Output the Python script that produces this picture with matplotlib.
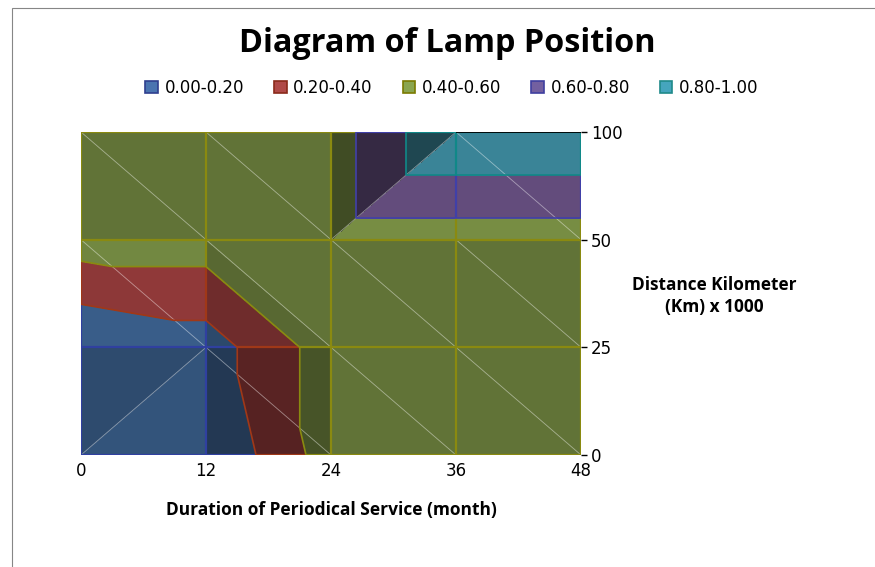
import numpy as np
import matplotlib
matplotlib.use('Agg')
import matplotlib.pyplot as plt
from matplotlib.tri import Triangulation
from matplotlib.collections import LineCollection
from matplotlib.patches import Patch, Rectangle

# ---- data -----------------------------------------------------------------
months = [0, 12, 24, 36, 48]            # x categories (month)
distance = ['0', '25', '50', '100']     # y series (km x 1000)

# surface values, one row per distance
val_0 = [0.0, 0.0, 0.5, 0.5, 0.5]
val_25 = [0.0, 0.1, 0.5, 0.5, 0.5]
val_50 = [0.5, 0.5, 0.5, 0.5, 0.5]
val_100 = [0.5, 0.5, 0.5, 1.0, 1.0]

band_labels = ['0.00-0.20', '0.20-0.40', '0.40-0.60', '0.60-0.80', '0.80-1.00']
band_levels = [0.0, 0.2, 0.4, 0.6, 0.8, 1.0]

# ---- styles ---------------------------------------------------------------
# band colours of a flat facet (rgb 0-255), lit facets get brighter / darker
flat_rgb = [(49, 80, 118), (122, 48, 48), (97, 115, 55), (81, 62, 101), (47, 108, 123)]
border = ['#3040a0', '#a03818', '#8a8a10', '#4040a8', '#108888']
legend_fc = ['#4a74b0', '#b04a48', '#8aa54f', '#7360a0', '#45a5bd']
legend_ec = ['#2f3f8f', '#8a2a1a', '#7a7a00', '#3f3f9f', '#1f8a8a']

# how Excel split every cell into two triangles (row by row, from bottom)
diagonals = [['/', '\\', '\\', '\\'],
             ['\\', '\\', '\\', '\\'],
             ['\\', '\\', '/', '\\']]

ni, nj = len(months), len(distance)
I, J = np.meshgrid(np.arange(ni), np.arange(nj))
x = I.ravel().astype(float)
y = J.ravel().astype(float)
z = np.array([val_0, val_25, val_50, val_100]).ravel()


def node(i, j):
    return j * ni + i


triangles = []
for j in range(nj - 1):
    for i in range(ni - 1):
        a, b, c, d = node(i, j), node(i + 1, j), node(i + 1, j + 1), node(i, j + 1)
        if diagonals[j][i] == '/':
            triangles += [[a, b, c], [a, c, d]]
        else:
            triangles += [[a, b, d], [b, c, d]]

fig = plt.figure(figsize=(8.75, 5.67), dpi=100)
ax = fig.add_axes([81 / 875, 1 - 455 / 567, 500 / 875, 323 / 567])

fill_levels = [band_levels[0] - 0.001] + band_levels[1:-1] + [band_levels[-1] + 0.001]

# each facet filled on its own, shaded by its slope (light from the bottom-left)
for t in triangles:
    A = np.column_stack([x[t], y[t], np.ones(3)])
    gx, gy, _ = np.linalg.solve(A, z[t])
    f = np.clip(1 - 0.68 * gx + 0.45 * gy, 0.3, 1.6)
    cols = [np.clip(np.array(c) * f / 255, 0, 1) for c in flat_rgb]
    ax.tricontourf(Triangulation(x, y, [t]), z, levels=fill_levels, colors=cols)

tri_all = Triangulation(x, y, triangles)

# band outlines used to colour the cell grid
cs = ax.tricontourf(tri_all, z, levels=fill_levels)
band_paths = cs.get_paths()
cs.remove()

# faint facet diagonals
diag_segs = []
for t in triangles:
    for p, q in [(t[0], t[1]), (t[1], t[2]), (t[2], t[0])]:
        if x[p] != x[q] and y[p] != y[q]:
            diag_segs.append([(x[p], y[p]), (x[q], y[q])])
ax.add_collection(LineCollection(diag_segs, colors=[(1, 1, 1, 0.25)], linewidths=0.6))

# cell grid, coloured by the band it runs through
grid_segs = [[(i, 0), (i, nj - 1)] for i in range(ni)] + \
            [[(0, j), (ni - 1, j)] for j in range(nj)]
for k, path in enumerate(band_paths):
    if len(path.vertices) == 0:
        continue
    lc = LineCollection(grid_segs, colors=border[k], linewidths=1.6)
    ax.add_collection(lc)
    lc.set_clip_path(path, ax.transData)

# band boundaries
ax.tricontour(tri_all, z, levels=band_levels[1:-1], colors=border[1:], linewidths=1.2)
ax.tricontour(tri_all, z, levels=[band_levels[-1] - 0.001], colors='black', linewidths=1.3)

ax.set_xlim(0, ni - 1)
ax.set_ylim(0, nj - 1)
ax.set_xticks(range(ni), [str(m) for m in months])
ax.set_yticks(range(nj), distance)
ax.yaxis.tick_right()
for s in ax.spines.values():
    s.set_visible(False)
ax.tick_params(axis='x', length=0, pad=5, labelsize=12)
ax.tick_params(axis='y', length=4, width=1, pad=3, labelsize=12)

# titles
fig.text(447 / 875, 1 - 44 / 567, 'Diagram of Lamp Position', ha='center', va='center',
         fontsize=23.3, fontweight='bold', family='Open Sans')
fig.text(714 / 875, 1 - 296 / 567, 'Distance Kilometer\n(Km) x 1000', ha='center', va='center',
         fontsize=12.4, fontweight='bold', family='Open Sans', linespacing=1.3)
fig.text(331 / 875, 1 - 510 / 567, 'Duration of Periodical Service (month)', ha='center',
         va='center', fontsize=12.5, fontweight='bold', family='Open Sans')

# legend
handles = [Patch(facecolor=legend_fc[k], edgecolor=legend_ec[k], linewidth=1.2, label=band_labels[k])
           for k in range(len(band_labels))]
fig.legend(handles=handles, loc='center', bbox_to_anchor=(452 / 875, 1 - 88 / 567), ncol=5,
           frameon=False, fontsize=12, handlelength=0.75, handleheight=0.75,
           handletextpad=0.4, columnspacing=1.8)

# chart area border
fig.add_artist(Rectangle((12 / 875, -0.05), 1.0, 1 - 8 / 567 + 0.05, transform=fig.transFigure,
                         fill=False, edgecolor='#868686', linewidth=0.8))

fig.savefig('out.png', dpi=100)
